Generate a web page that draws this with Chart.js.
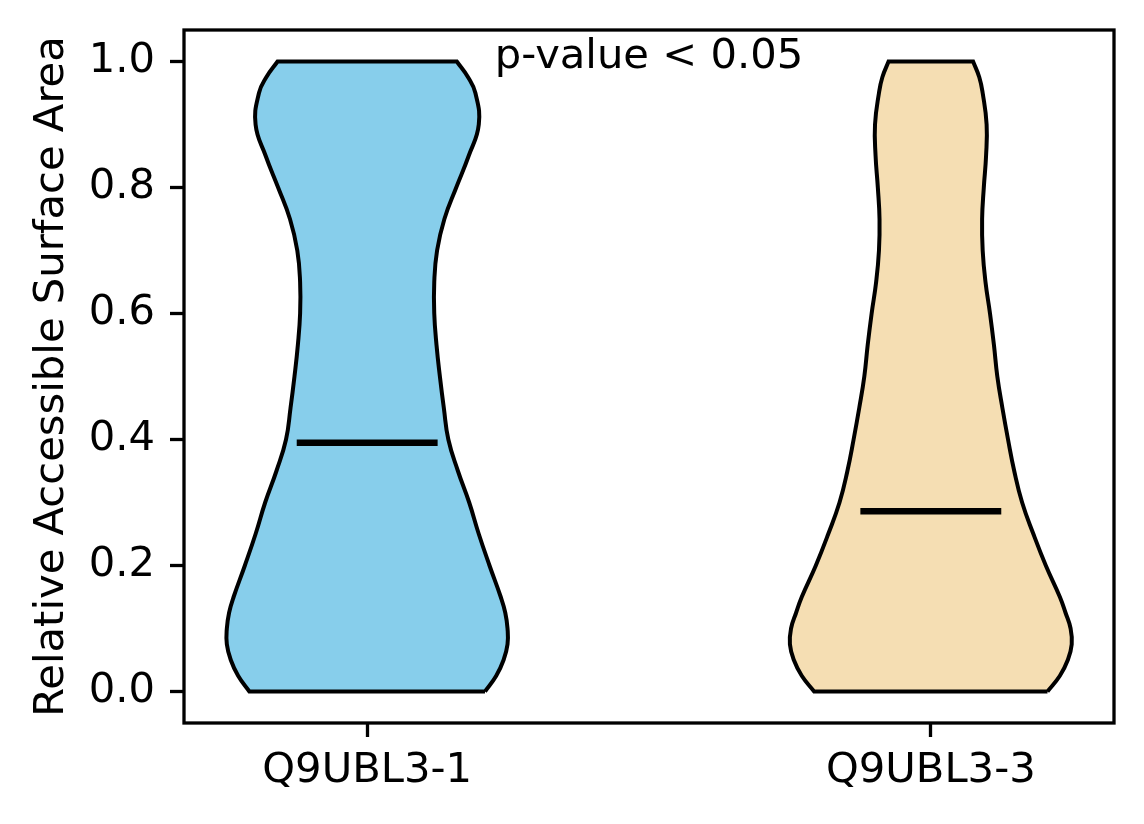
<!DOCTYPE html>
<html>
<head>
<meta charset="utf-8">
<title>Relative Accessible Surface Area</title>
<script src="https://cdn.jsdelivr.net/npm/chart.js@4.4.1/dist/chart.umd.min.js"></script>
<style>
    html, body { margin: 0; padding: 0; background: #fff; }
    #rsaChart { display: block; }
</style>
</head>
<body>
<canvas id="rsaChart" width="1144" height="824"></canvas>
<script>
// categories and where they sit on the x axis
const categories = ['Q9UBL3-1', 'Q9UBL3-3'];
const positions = [1, 2];
const violinColors = ['#87ceeb', '#f5deb3'];

const rsaLevels = [0, 0.025, 0.05, 0.075, 0.1, 0.125, 0.15, 0.2, 0.25, 0.3, 0.35, 0.4, 0.45,
                   0.5, 0.55, 0.6, 0.65, 0.7, 0.75, 0.8, 0.85, 0.9, 0.95, 0.975, 1.0];
const halfWidthQ9UBL3_1 = [0.209, 0.229, 0.242, 0.249, 0.249, 0.245, 0.237, 0.217, 0.198, 0.181, 0.161, 0.144, 0.136,
                           0.129, 0.123, 0.119, 0.119, 0.124, 0.137, 0.158, 0.180, 0.198, 0.192, 0.179, 0.159];
const halfWidthQ9UBL3_3 = [0.207, 0.229, 0.243, 0.250, 0.248, 0.239, 0.229, 0.204, 0.182, 0.162, 0.148, 0.137, 0.127,
                           0.118, 0.112, 0.105, 0.097, 0.092, 0.091, 0.094, 0.098, 0.099, 0.092, 0.086, 0.075];
const medians = [0.395, 0.286];
const medianHalf = 0.125;

const yTicks = [0, 0.2, 0.4, 0.6, 0.8, 1.0];
const pValueText = 'p-value < 0.05';
const pValuePos = { x: 1.5, y: 0.99 };

const widths = [halfWidthQ9UBL3_1, halfWidthQ9UBL3_3];
const labelFont = { family: '"DejaVu Sans"', size: 41.7 };

function violinOutline(center, w) {
    const pts = [];
    const n = rsaLevels.length;
    for (let i = 0; i < n; i++) pts.push({ x: center + w[i], y: rsaLevels[i] });
    // corners are doubled so the spline keeps them sharp
    pts.push({ x: center + w[n - 1], y: rsaLevels[n - 1] });
    for (let i = n - 1; i >= 0; i--) {
        pts.push({ x: center - w[i], y: rsaLevels[i] });
        if (i === n - 1 || i === 0) pts.push({ x: center - w[i], y: rsaLevels[i] });
    }
    pts.push({ x: center + w[0], y: rsaLevels[0] });
    return pts;
}

const datasets = [];
positions.forEach((pos, i) => {
    datasets.push({
        label: categories[i],
        data: violinOutline(pos, widths[i]),
        showLine: true,
        fill: false,
        tension: 0.45,
        borderColor: '#000',
        borderWidth: 4,
        backgroundColor: violinColors[i],
        pointRadius: 0,
        order: 2,
        violinFill: true
    });
});
positions.forEach((pos, i) => {
    datasets.push({
        label: categories[i] + ' median',
        data: [{ x: pos - medianHalf, y: medians[i] }, { x: pos + medianHalf, y: medians[i] }],
        showLine: true,
        borderColor: '#000',
        borderWidth: 6.5,
        pointRadius: 0,
        order: 1
    });
});

// fill the closed violin path before its outline is stroked
const violinFill = {
    id: 'violinFill',
    beforeDatasetDraw(chart, args) {
        const ds = chart.data.datasets[args.index];
        if (!ds.violinFill) return;
        const line = args.meta.dataset;
        const ctx = chart.ctx;
        line.updateControlPoints(chart.chartArea, 'x');
        ctx.save();
        ctx.beginPath();
        line.path(ctx);
        ctx.closePath();
        ctx.fillStyle = ds.backgroundColor;
        ctx.fill();
        ctx.restore();
    }
};

const frameAndText = {
    id: 'frameAndText',
    afterDatasetsDraw(chart) {
        const { ctx, chartArea, scales } = chart;
        ctx.save();
        ctx.strokeStyle = '#000';
        ctx.lineWidth = 3.3;
        ctx.strokeRect(chartArea.left, chartArea.top, chartArea.right - chartArea.left, chartArea.bottom - chartArea.top);
        ctx.fillStyle = '#000';
        ctx.font = labelFont.size + 'px ' + labelFont.family;
        ctx.textAlign = 'center';
        ctx.textBaseline = 'alphabetic';
        ctx.fillText(pValueText, scales.x.getPixelForValue(pValuePos.x), scales.y.getPixelForValue(pValuePos.y));
        ctx.restore();
    }
};

const tickGrid = {
    display: true,
    drawOnChartArea: false,
    drawTicks: true,
    tickLength: 14,
    tickWidth: 3.3,
    tickColor: '#000'
};

function noScalePadding(s) {
    s.paddingTop = 0;
    s.paddingBottom = 0;
    s.paddingLeft = 0;
    s.paddingRight = 0;
}

new Chart(document.getElementById('rsaChart'), {
    type: 'scatter',
    data: { datasets: datasets },
    plugins: [violinFill, frameAndText],
    options: {
        responsive: false,
        devicePixelRatio: 1,
        animation: false,
        layout: { padding: { left: 0, right: 30, top: 30, bottom: 0 } },
        plugins: {
            legend: { display: false },
            tooltip: { enabled: false }
        },
        scales: {
            x: {
                type: 'linear',
                min: 0.675,
                max: 2.325,
                afterBuildTicks: s => { s.ticks = positions.map(v => ({ value: v })); },
                afterFit: s => { s.height = 101; noScalePadding(s); },
                ticks: {
                    callback: v => categories[positions.indexOf(v)],
                    font: labelFont,
                    color: '#000',
                    padding: 9,
                    maxRotation: 0,
                    autoSkip: false
                },
                grid: tickGrid,
                border: { display: false }
            },
            y: {
                type: 'linear',
                min: -0.05,
                max: 1.05,
                afterBuildTicks: s => { s.ticks = yTicks.map(v => ({ value: v })); },
                afterFit: s => { s.width = 184; noScalePadding(s); },
                ticks: {
                    callback: v => v.toFixed(1),
                    font: labelFont,
                    color: '#000',
                    padding: 15
                },
                grid: tickGrid,
                border: { display: false },
                title: {
                    display: true,
                    text: 'Relative Accessible Surface Area',
                    font: labelFont,
                    color: '#000',
                    padding: { top: 27, bottom: 0 }
                }
            }
        }
    }
});
</script>
</body>
</html>
